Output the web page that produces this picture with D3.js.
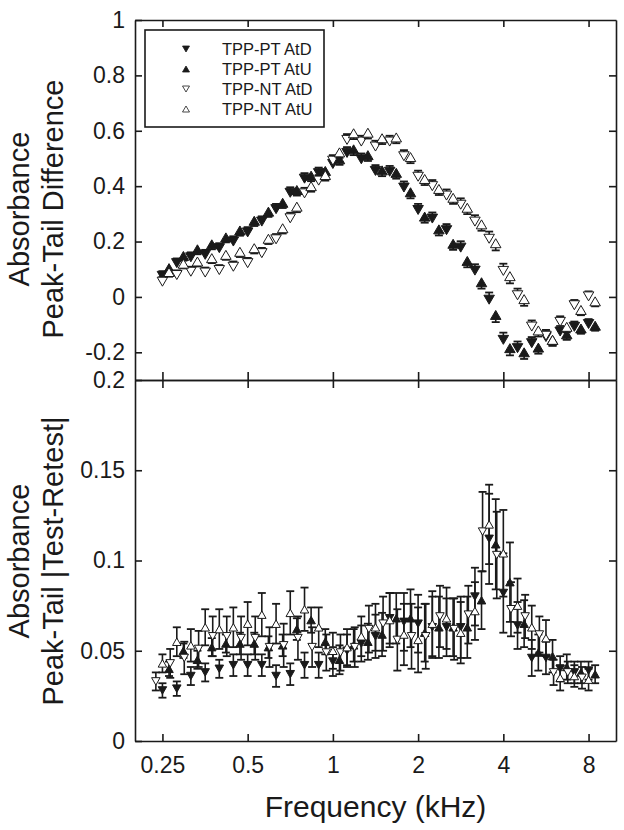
<!DOCTYPE html>
<html>
<head>
<meta charset="utf-8">
<script src="https://cdn.jsdelivr.net/npm/d3@7"></script>
<style>
  body { margin: 0; background: #fff; }
  svg { display: block; font-family: "Liberation Sans", Arial, Helvetica, sans-serif; }
</style>
</head>
<body>
<svg id="chart" width="624" height="830"></svg>
<script>
// frequencies (kHz), 1/6 octave steps
const freqs = [0.25, 0.281, 0.315, 0.354, 0.397, 0.445, 0.5, 0.561, 0.63, 0.707, 0.794, 0.891,
  1, 1.122, 1.26, 1.414, 1.587, 1.782, 2, 2.245, 2.52, 2.828, 3.175, 3.564, 4, 4.49, 5.04,
  5.657, 6.35, 7.127, 8];
const xTicks = [0.25, 0.5, 1, 2, 4, 8];

// top panel: peak-tail difference
const ptAtD = [0.076, 0.122, 0.143, 0.152, 0.176, 0.200, 0.233, 0.272, 0.317, 0.376, 0.427, 0.447,
  0.480, 0.520, 0.497, 0.455, 0.452, 0.395, 0.314, 0.283, 0.241, 0.178, 0.095, -0.010, -0.155,
  -0.185, -0.167, -0.145, -0.125, -0.108, -0.098];
const ptAtU = [0.104, 0.148, 0.172, 0.190, 0.215, 0.240, 0.275, 0.308, 0.340, 0.386, 0.438, 0.455,
  0.497, 0.533, 0.512, 0.457, 0.448, 0.378, 0.290, 0.244, 0.192, 0.130, 0.053, -0.065, -0.185,
  -0.200, -0.183, -0.155, -0.135, -0.114, -0.104];
const ntAtD = [0.055, 0.079, 0.091, 0.088, 0.097, 0.109, 0.122, 0.158, 0.208, 0.284, 0.374, 0.420,
  0.492, 0.567, 0.561, 0.543, 0.561, 0.508, 0.434, 0.400, 0.366, 0.333, 0.272, 0.210, 0.094,
  0.006, -0.107, -0.140, -0.090, -0.030, 0.002];
const ntAtU = [0.090, 0.120, 0.128, 0.140, 0.152, 0.163, 0.176, 0.210, 0.248, 0.326, 0.400, 0.440,
  0.522, 0.591, 0.593, 0.573, 0.576, 0.505, 0.426, 0.390, 0.358, 0.322, 0.262, 0.194, 0.075,
  -0.008, -0.121, -0.155, -0.108, -0.047, -0.016];
const topErr = [0.017, 0.017, 0.018, 0.018, 0.018, 0.019, 0.019, 0.019, 0.019, 0.020, 0.020, 0.020,
  0.020, 0.021, 0.021, 0.021, 0.021, 0.022, 0.022, 0.022, 0.022, 0.023, 0.023, 0.026, 0.026,
  0.024, 0.022, 0.021, 0.020, 0.019, 0.018];

// bottom panel: |test-retest|
const bPtAtD = [0.028, 0.029, 0.036, 0.038, 0.040, 0.042, 0.042, 0.042, 0.036, 0.037, 0.042, 0.042,
  0.044, 0.050, 0.054, 0.058, 0.068, 0.066, 0.065, 0.063, 0.063, 0.063, 0.080, 0.112, 0.082,
  0.064, 0.046, 0.046, 0.040, 0.038, 0.039];
const bPtAtU = [0.040, 0.050, 0.045, 0.052, 0.054, 0.054, 0.054, 0.052, 0.053, 0.062, 0.067, 0.055,
  0.045, 0.053, 0.055, 0.059, 0.068, 0.068, 0.060, 0.063, 0.063, 0.063, 0.078, 0.109, 0.088,
  0.065, 0.049, 0.047, 0.041, 0.038, 0.037];
const bNtAtD = [0.033, 0.043, 0.046, 0.051, 0.058, 0.058, 0.057, 0.057, 0.052, 0.053, 0.057, 0.052,
  0.049, 0.049, 0.052, 0.062, 0.065, 0.056, 0.058, 0.058, 0.069, 0.062, 0.070, 0.116, 0.103,
  0.073, 0.069, 0.059, 0.038, 0.038, 0.035];
const bNtAtU = [0.043, 0.055, 0.053, 0.063, 0.062, 0.063, 0.065, 0.070, 0.065, 0.071, 0.073, 0.063,
  0.050, 0.052, 0.058, 0.063, 0.067, 0.059, 0.056, 0.065, 0.068, 0.060, 0.072, 0.120, 0.104,
  0.075, 0.063, 0.057, 0.035, 0.036, 0.034];
const bPtErr = [0.004, 0.004, 0.005, 0.005, 0.005, 0.006, 0.006, 0.006, 0.006, 0.006, 0.007, 0.007,
  0.008, 0.009, 0.010, 0.012, 0.014, 0.016, 0.016, 0.017, 0.016, 0.017, 0.016, 0.025, 0.022,
  0.013, 0.010, 0.009, 0.007, 0.006, 0.005];
const bNtErr = [0.005, 0.008, 0.009, 0.010, 0.011, 0.011, 0.012, 0.012, 0.011, 0.012, 0.012, 0.011,
  0.010, 0.010, 0.011, 0.013, 0.015, 0.017, 0.018, 0.018, 0.017, 0.017, 0.016, 0.022, 0.024,
  0.015, 0.012, 0.010, 0.007, 0.006, 0.006];

const legendLabels = ["TPP-PT AtD", "TPP-PT AtU", "TPP-NT AtD", "TPP-NT AtU"];

const svg = d3.select("#chart");
const ink = "#1a1a1a";
const plotL = 135, plotR = 616, plotT = 20, plotM = 380, plotB = 741;
const shift = 1.055; // plotting offset between series at a frequency

const x = d3.scaleLog().domain([0.2, 10]).range([plotL, plotR]);
const yTop = d3.scaleLinear().domain([-0.3, 1]).range([plotM, plotT]);
const yBot = d3.scaleLinear().domain([0, 0.2]).range([plotB, plotM]);

const fmt = d => String(+d.toFixed(2));

function styleAxis(g) {
  g.selectAll("path, line").attr("stroke", ink).attr("stroke-width", 1.6);
  g.selectAll("text").attr("fill", ink).attr("font-size", 23).attr("font-family", null);
}

// top panel frame + ticks
svg.append("g").attr("transform", `translate(${plotL},0)`)
  .call(d3.axisLeft(yTop).tickValues([-0.2, 0, 0.2, 0.4, 0.6, 0.8, 1]).tickFormat(fmt)
    .tickSizeInner(-7).tickSizeOuter(0).tickPadding(10))
  .call(styleAxis);
svg.append("g").attr("transform", `translate(${plotR},0)`)
  .call(d3.axisRight(yTop).tickValues([-0.2, 0, 0.2, 0.4, 0.6, 0.8]).tickFormat("")
    .tickSizeInner(-7).tickSizeOuter(0))
  .call(styleAxis);
svg.append("g").attr("transform", `translate(0,${plotT})`)
  .call(d3.axisTop(x).tickValues(xTicks).tickFormat("").tickSizeInner(-7).tickSizeOuter(0))
  .call(styleAxis);
svg.append("g").attr("transform", `translate(0,${plotM})`)
  .call(d3.axisBottom(x).tickValues(xTicks).tickFormat("").tickSizeInner(-8).tickSizeOuter(0))
  .call(styleAxis);

// bottom panel frame + ticks
svg.append("g").attr("transform", `translate(${plotL},0)`)
  .call(d3.axisLeft(yBot).tickValues([0, 0.05, 0.1, 0.15, 0.2]).tickFormat(fmt)
    .tickSizeInner(-7).tickSizeOuter(0).tickPadding(10))
  .call(styleAxis);
svg.append("g").attr("transform", `translate(${plotR},0)`)
  .call(d3.axisRight(yBot).tickValues([0.05, 0.1, 0.15]).tickFormat("")
    .tickSizeInner(-7).tickSizeOuter(0))
  .call(styleAxis);
svg.append("g").attr("transform", `translate(0,${plotM})`)
  .call(d3.axisTop(x).tickValues(xTicks).tickFormat("").tickSizeInner(-8).tickSizeOuter(0))
  .call(styleAxis);
svg.append("g").attr("transform", `translate(0,${plotB})`)
  .call(d3.axisBottom(x).tickValues(xTicks).tickFormat(fmt).tickSizeInner(-7).tickSizeOuter(0).tickPadding(16))
  .call(styleAxis);

// markers
function tri(dir, w, h) {
  return dir === "down"
    ? `M${-w / 2},${-h / 2}L${w / 2},${-h / 2}L0,${h / 2}Z`
    : `M${-w / 2},${h / 2}L${w / 2},${h / 2}L0,${-h / 2}Z`;
}

// side: "up" / "down" = one-sided error bar, "both" = two-sided
function drawSeries(vals, errs, y, xShift, dir, filled, side, size) {
  const g = svg.append("g");
  const data = freqs.map((f, i) => ({ f: f * xShift, v: vals[i], e: errs[i] }));
  const cap = size.cap;
  data.forEach(d => {
    const cx = x(d.f);
    const hi = side === "down" ? y(d.v) : y(d.v + d.e);
    const lo = side === "up" ? y(d.v) : y(d.v - d.e);
    g.append("line").attr("x1", cx).attr("x2", cx).attr("y1", hi).attr("y2", lo)
      .attr("stroke", ink).attr("stroke-width", 1.6);
    if (side !== "down") g.append("line").attr("x1", cx - cap / 2).attr("x2", cx + cap / 2)
      .attr("y1", hi).attr("y2", hi).attr("stroke", ink).attr("stroke-width", 1.8);
    if (side !== "up") g.append("line").attr("x1", cx - cap / 2).attr("x2", cx + cap / 2)
      .attr("y1", lo).attr("y2", lo).attr("stroke", ink).attr("stroke-width", 1.8);
  });
  g.selectAll("path.m").data(data).join("path")
    .attr("class", "m")
    .attr("transform", d => `translate(${x(d.f)},${y(d.v)})`)
    .attr("d", tri(dir, size.w, size.h))
    .attr("fill", filled ? ink : "#fff")
    .attr("stroke", ink).attr("stroke-width", 1);
}

const topSize = { w: 10.5, h: 9, cap: 8 };
const botSize = { w: 8.5, h: 7.5, cap: 8 };

drawSeries(ptAtD, topErr, yTop, 1, "down", true, "up", topSize);
drawSeries(ptAtU, topErr, yTop, shift, "up", true, "down", topSize);
drawSeries(ntAtD, topErr, yTop, 1, "down", false, "up", topSize);
drawSeries(ntAtU, topErr, yTop, shift, "up", false, "down", topSize);

drawSeries(bPtAtD, bPtErr, yBot, 1, "down", true, "both", botSize);
drawSeries(bPtAtU, bPtErr, yBot, shift, "up", true, "both", botSize);
drawSeries(bNtAtD, bNtErr, yBot, 1 / shift, "down", false, "both", botSize);
drawSeries(bNtAtU, bNtErr, yBot, 1, "up", false, "both", botSize);

// legend
const lg = svg.append("g");
lg.append("rect").attr("x", 145).attr("y", 30).attr("width", 179).attr("height", 97)
  .attr("fill", "#fff").attr("stroke", ink).attr("stroke-width", 1.6);
const legendDirs = ["down", "up", "down", "up"];
const legendFill = [true, true, false, false];
legendLabels.forEach((t, i) => {
  const cy = 49 + i * 20;
  lg.append("path").attr("transform", `translate(186,${cy})`)
    .attr("d", tri(legendDirs[i], 7, 6))
    .attr("fill", legendFill[i] ? ink : "#fff").attr("stroke", ink).attr("stroke-width", 0.8);
  lg.append("text").attr("x", 222).attr("y", cy + 6).attr("font-size", 16.5)
    .attr("fill", ink).text(t);
});

// axis titles
function yTitle(lines, cy) {
  const t = svg.append("text").attr("transform", `translate(0,${cy}) rotate(-90)`)
    .attr("text-anchor", "middle").attr("font-size", 29).attr("fill", ink);
  t.append("tspan").attr("x", 0).attr("y", 29).text(lines[0]);
  t.append("tspan").attr("x", 0).attr("y", 63).text(lines[1]);
}
yTitle(["Absorbance", "Peak-Tail Difference"], 209);
yTitle(["Absorbance", "Peak-Tail |Test-Retest|"], 561);

svg.append("text").attr("x", (plotL + plotR) / 2).attr("y", 817)
  .attr("text-anchor", "middle").attr("font-size", 30).attr("fill", ink)
  .text("Frequency (kHz)");
</script>
</body>
</html>
